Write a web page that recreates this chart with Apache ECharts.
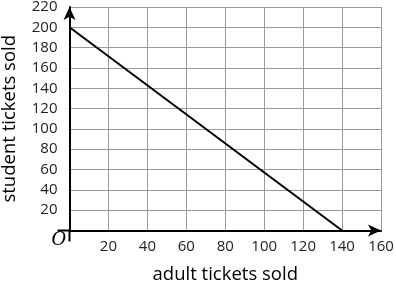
<!DOCTYPE html>
<html><head><meta charset="utf-8">
<script src="https://cdn.jsdelivr.net/npm/echarts@6/dist/echarts.min.js"></script>
<style>html,body{margin:0;padding:0;background:#fff}#c{width:396px;height:283px}</style>
</head><body><div id="c"></div>
<script>
var adultTickets = [0, 140];
var studentTickets = [200, 0];
var xTicks = [0, 20, 40, 60, 80, 100, 120, 140, 160];
var yTicks = [0, 20, 40, 60, 80, 100, 120, 140, 160, 180, 200, 220];
var xTitle = 'adult tickets sold';
var yTitle = 'student tickets sold';
var originLabel = 'O';

var font = 'Open Sans';
var chart = echarts.init(document.getElementById('c'), null, {renderer: 'canvas'});
var axisCommon = {
  type: 'value',
  nameLocation: 'middle',
  nameTextStyle: {fontFamily: font, fontSize: 18.5, color: '#000'},
  axisLine: {show: true, onZero: false, lineStyle: {color: '#000', width: 2}, symbol: ['none', 'arrow'], symbolSize: [9, 13], symbolOffset: [0, 0]},
  axisTick: {show: false},
  splitLine: {show: true, lineStyle: {color: '#9a9a9a', width: 1}},
  axisLabel: {fontFamily: font, fontSize: 15, color: '#222', formatter: function (v) { return v === 0 ? '' : String(v); }}
};
chart.setOption({
  animation: false,
  grid: {left: 69.5, right: 15, top: 7, bottom: 52.5, containLabel: false, outerBoundsMode: 'none'},
  xAxis: Object.assign({}, axisCommon, {
    min: xTicks[0], max: xTicks[xTicks.length - 1], interval: xTicks[1] - xTicks[0],
    name: xTitle, nameGap: 35,
    axisLabel: Object.assign({}, axisCommon.axisLabel, {margin: 9})
  }),
  yAxis: Object.assign({}, axisCommon, {
    min: yTicks[0], max: yTicks[yTicks.length - 1], interval: yTicks[1] - yTicks[0],
    name: yTitle, nameGap: 50,
    axisLabel: Object.assign({}, axisCommon.axisLabel, {margin: 12})
  }),
  series: [{
    type: 'line',
    data: adultTickets.map(function (x, i) { return [x, studentTickets[i]]; }),
    symbol: 'none',
    lineStyle: {color: '#000', width: 2}
  }]
});
var o = chart.convertToPixel({gridIndex: 0}, [0, 0]);
chart.setOption({
  graphic: [
    {type: 'line', shape: {x1: o[0] - 12, y1: o[1], x2: o[0], y2: o[1]}, style: {stroke: '#000', lineWidth: 2}},
    {type: 'line', shape: {x1: o[0], y1: o[1], x2: o[0], y2: o[1] + 11}, style: {stroke: '#000', lineWidth: 2}},
    {type: 'text', x: o[0] - 18, y: o[1] + 1, style: {text: originLabel, font: 'italic 18px "DejaVu Serif"', fill: '#000'}}
  ]
});
</script></body></html>
